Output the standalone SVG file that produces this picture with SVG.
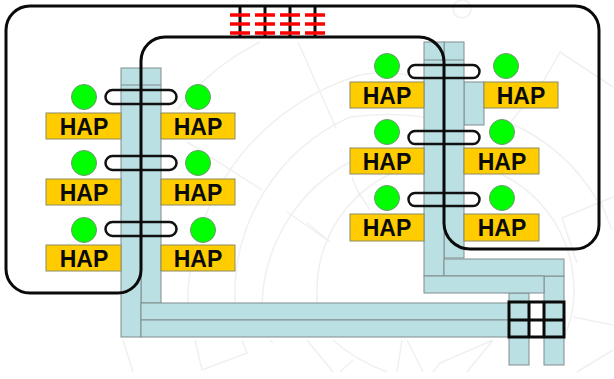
<svg xmlns="http://www.w3.org/2000/svg" width="614" height="379" viewBox="0 0 614 379">
<style>
.wm{fill:none;stroke:#f0f0f0;stroke-width:1.5}
.p{fill:#bbe0e3;stroke:#808c8e;stroke-width:1}
.h{fill:#ffcc00;stroke:#8c8c60;stroke-width:1}
.t{font-family:"Liberation Sans",Arial,sans-serif;font-weight:700;font-size:23px;text-anchor:middle;fill:#0a0a0a}
.c{fill:#00ff00;stroke:#6a9a6a;stroke-width:1}
.o{fill:none;stroke:#111;stroke-width:2.5}
.k{fill:none;stroke:#0a0a0a;stroke-width:3}
.r{stroke:#ff0000;stroke-width:3.5}
</style>
<rect width="614" height="379" fill="#fff"/>
<g id="watermark">
<path class="wm" d="M177 110A240 240 0 0 1 260 42"/>
<path class="wm" d="M188 303V290A242 242 0 0 1 360 75Q395 68 424 80"/>
<path class="wm" d="M235 303A195 195 0 0 1 350 117Q390 112 424 117"/>
<path class="wm" d="M262 303A168 168 0 0 1 350 162"/>
<path class="wm" d="M317 303V290A128.500 128.500 0 0 1 574 290Q574 320 560 345"/>
<path class="wm" d="M510 123A190 190 0 0 1 597 200"/>
<path class="wm" d="M298 42L336 128M187 142L262 190M287 212L330 242M352 177L360 197M307 223L330 242M357 190L370 210"/>
<path class="wm" d="M510 123L544 80L560 52L613 87M562 218L613 197M562 218L577 263M573 317L613 325M600 200L612 230M613 350L577 372"/>
<path class="wm" d="M123 340L133 372M195 340L202 370L247 353L242 340M270 340L273 343M307 340L333 372M333 340Q355 360 387 372M353 360L340 372M402 340L397 372M407 340L423 372M433 372L440 363L493 340M467 372L493 340"/>
<circle class="wm" cx="462" cy="9" r="9"/>
</g>
<g id="pipes">
<rect class="p" x="141" y="68" width="20" height="235"/>
<rect class="p" x="121" y="68" width="20" height="269"/>
<path class="p" d="M121 85H161" fill="none"/>
<rect class="p" x="141" y="303" width="368" height="17"/>
<rect class="p" x="141" y="320" width="368" height="17"/>
<rect class="p" x="509" y="293" width="20" height="72"/>
<rect class="p" x="544" y="276" width="20" height="89"/>
<rect class="p" x="464" y="82" width="20" height="43"/>
<rect class="p" x="444" y="42" width="20" height="216"/>
<rect class="p" x="424" y="42" width="20" height="234"/>
<path class="p" d="M424 60H464" fill="none"/>
<rect class="p" x="444" y="259" width="120" height="17"/>
<rect class="p" x="424" y="276" width="120" height="17"/>
</g>
<g id="hap-l1"><circle class="c" cx="84" cy="97" r="12.500"/><rect class="h" x="46" y="113" width="75" height="26"/><text class="t" x="84" y="135">HAP</text></g>
<g id="hap-l2"><circle class="c" cx="198" cy="97" r="12.500"/><rect class="h" x="161" y="113" width="74" height="26"/><text class="t" x="198" y="135">HAP</text></g>
<g id="hap-l3"><circle class="c" cx="84" cy="163" r="12.500"/><rect class="h" x="46" y="179" width="75" height="26"/><text class="t" x="84" y="201">HAP</text></g>
<g id="hap-l4"><circle class="c" cx="198" cy="163" r="12.500"/><rect class="h" x="161" y="179" width="74" height="26"/><text class="t" x="198" y="201">HAP</text></g>
<g id="hap-l5"><circle class="c" cx="84" cy="230" r="12.500"/><rect class="h" x="46" y="245" width="75" height="26"/><text class="t" x="84" y="267">HAP</text></g>
<g id="hap-l6"><circle class="c" cx="203" cy="230" r="12.500"/><rect class="h" x="161" y="245" width="74" height="26"/><text class="t" x="198" y="267">HAP</text></g>
<g id="hap-r1"><circle class="c" cx="387" cy="66" r="12.500"/><rect class="h" x="350" y="82" width="74" height="26"/><text class="t" x="387" y="104">HAP</text></g>
<g id="hap-r2"><circle class="c" cx="506" cy="66" r="12.500"/><rect class="h" x="484" y="82" width="74" height="26"/><text class="t" x="521" y="104">HAP</text></g>
<g id="hap-r3"><circle class="c" cx="387" cy="132" r="12.500"/><rect class="h" x="350" y="148" width="74" height="26"/><text class="t" x="387" y="170">HAP</text></g>
<g id="hap-r4"><circle class="c" cx="502" cy="132" r="12.500"/><rect class="h" x="464" y="148" width="75" height="26"/><text class="t" x="502" y="170">HAP</text></g>
<g id="hap-r5"><circle class="c" cx="387" cy="198" r="12.500"/><rect class="h" x="350" y="214" width="74" height="27"/><text class="t" x="387" y="236">HAP</text></g>
<g id="hap-r6"><circle class="c" cx="502" cy="198" r="12.500"/><rect class="h" x="464" y="214" width="75" height="27"/><text class="t" x="502" y="236">HAP</text></g>
<g id="connectors">
<rect class="o" x="105.500" y="90" width="71" height="14" rx="7"/>
<rect class="o" x="105.500" y="156" width="71" height="14" rx="7"/>
<rect class="o" x="105.500" y="222" width="71" height="14" rx="7"/>
<rect class="o" x="408.500" y="65" width="71" height="13" rx="6.500"/>
<rect class="o" x="408.500" y="131" width="71" height="13" rx="6.500"/>
<rect class="o" x="408.500" y="193" width="71" height="13" rx="6.500"/>
<path class="k" d="M30 6H575A24 24 0 0 1 599 30V225A24 24 0 0 1 575 249H470A26 26 0 0 1 444 223V62A25 25 0 0 0 419 37H165A24 24 0 0 0 141 61V270A23 23 0 0 1 118 293H30A24 24 0 0 1 6 269V30A24 24 0 0 1 30 6Z"/>
<path class="k" d="M240 6V37M265 6V37M290 6V37M315 6V37"/>
<path class="r" d="M230 15H250M255 15H275M280 15H300M305 15H325M230 24H250M255 24H275M280 24H300M305 24H325M230 33H250M255 33H275M280 33H300M305 33H325"/>
<path class="k" d="M509 302H564V337H509ZM509 320H564M529 302V337M544 302V337"/>
</g>
</svg>
